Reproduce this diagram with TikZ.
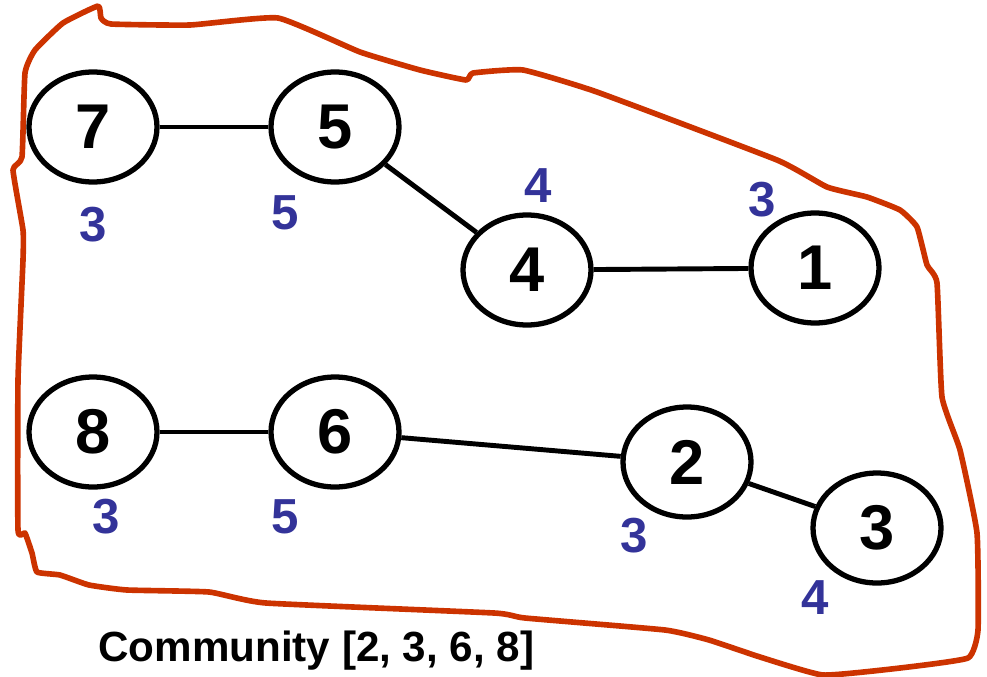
\documentclass[tikz,border=0pt]{standalone}
\usepackage{fontspec}
\setmainfont{Liberation Sans}
\usetikzlibrary{shapes.geometric}
\definecolor{hullred}{RGB}{204,51,0}
\definecolor{degblue}{RGB}{51,51,153}

\tikzset{
  vtx/.style={draw, ellipse, line width=3pt, minimum width=2.56cm, minimum height=2.2cm,
    inner sep=0pt, font=\fontsize{36}{36}\selectfont\bfseries},
  deg/.style={text=degblue, inner sep=0pt, font=\fontsize{28}{28}\selectfont\bfseries},
  edge/.style={line width=2.8pt},
}

\begin{document}
\begin{tikzpicture}[x=0.2mm, y=-0.2mm]

\useasboundingbox (0,0) rectangle (987,676);

% the community hull
\draw[hullred, line width=3.2pt, line join=round]
  plot[smooth cycle, tension=0.25] coordinates {
    (98,6) (101,18) (111,24) (190,25) (278,18) (360,52) (420,70) (466,80)
    (473,73) (523,70) (597,92) (777,160) (827,187) (867,197) (900,210)
    (917,227) (927,265) (937,283) (942,397) (960,450) (977,533) (978,630)
    (968,658) (900,668) (823,675) (760,657) (709,640) (665,630) (525,618)
    (494,613) (266,603) (209,592) (127,590) (89,585) (60,575) (37,572)
    (32,553) (25,533) (18,530) (18,380) (23,260) (23,230) (13,170)
    (22,157) (25,73) (35,50) (63,23)
  };

% vertices
\node[vtx] (n7) at (93,127) {7};
\node[vtx] (n5) at (335,127) {5};
\node[vtx] (n4) at (527,270) {4};
\node[vtx] (n1) at (815,268) {1};
\node[vtx] (n8) at (93,432) {8};
\node[vtx] (n6) at (335,432) {6};
\node[vtx] (n2) at (687,462) {2};
\node[vtx] (n3) at (877,528) {3};

% degrees
\node[deg] (d7) at (93,225) {3};
\node[deg] (d5) at (285,213) {5};
\node[deg] (d4) at (538,186) {4};
\node[deg] (d1) at (762,200) {3};
\node[deg] (d8) at (106,517) {3};
\node[deg] (d6) at (285,517) {5};
\node[deg] (d2) at (634,536) {3};
\node[deg] (d3) at (815,598) {4};

% links
\draw[edge] (n7) -- (n5);
\draw[edge] (n5) -- (n4);
\draw[edge] (n4) -- (n1);
\draw[edge] (n8) -- (n6);
\draw[edge] (n6) -- (n2);
\draw[edge] (n2) -- (n3);

\node[anchor=west, inner sep=0pt, font=\fontsize{24}{24}\selectfont\bfseries] (cap) at (98,651) {Community [2, 3, 6, 8]};

\end{tikzpicture}
\end{document}
